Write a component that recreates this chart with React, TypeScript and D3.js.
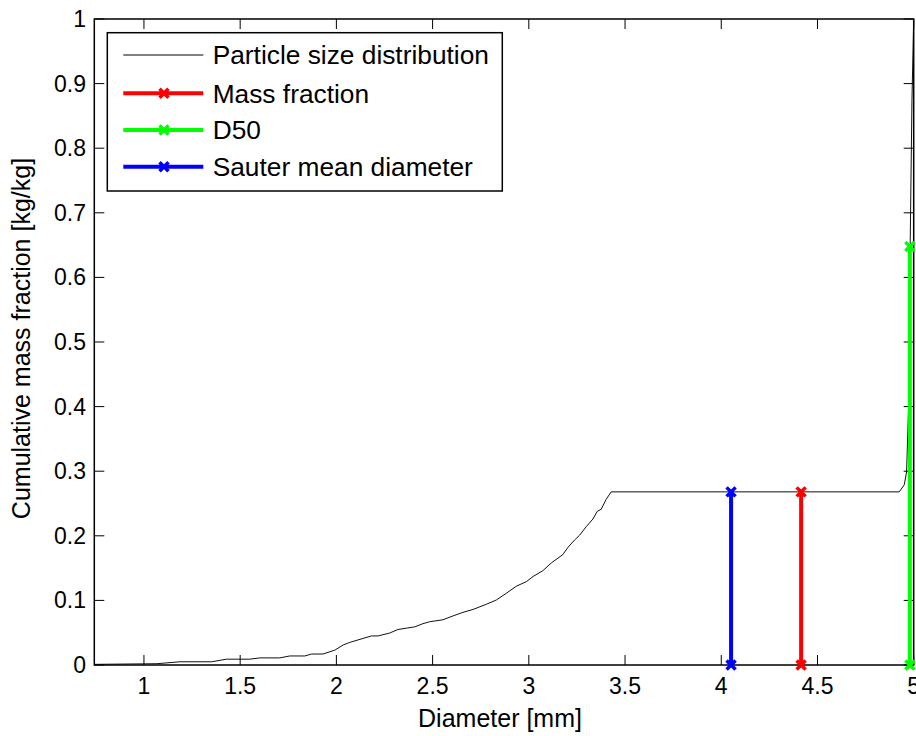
import React from "react";
import * as d3 from "d3";

// Cumulative particle size distribution (diameter in mm, cumulative mass fraction)
const psdDiameter = [
  0.742, 1.068, 1.187, 1.352, 1.429, 1.55, 1.602, 1.706, 1.758, 1.836,
  1.871, 1.93, 1.992, 2.035, 2.07, 2.182, 2.217, 2.277, 2.32, 2.364,
  2.407, 2.45, 2.485, 2.554, 2.606, 2.658, 2.71, 2.779, 2.831, 2.883,
  2.935, 2.987, 3.022, 3.073, 3.117, 3.177, 3.203, 3.238, 3.264, 3.298,
  3.333, 3.356, 3.376, 3.402, 3.428, 4.925, 4.951, 4.963, 4.977, 4.982,
  4.991, 5.0,
];
const psdFraction = [
  0.001, 0.002, 0.005, 0.005, 0.009, 0.009, 0.011, 0.011, 0.014, 0.014,
  0.017, 0.017, 0.023, 0.031, 0.035, 0.045, 0.045, 0.0495, 0.055, 0.057,
  0.059, 0.064, 0.067, 0.07, 0.076, 0.0815, 0.086, 0.094, 0.1006, 0.111,
  0.122, 0.129, 0.137, 0.146, 0.158, 0.171, 0.182, 0.1935, 0.201, 0.214,
  0.226, 0.238, 0.241, 0.2565, 0.268, 0.268, 0.279, 0.299, 0.436, 0.658,
  0.875, 1.0,
];

// Characteristic diameters, each drawn as a stem from 0 up to its level
const markerNames = ["Mass fraction", "D50", "Sauter mean diameter"];
const markerDiameter = [4.415, 4.98, 4.051];
const markerLevel = [0.268, 0.648, 0.268];
const markerColors = ["#ff0000", "#00ff00", "#0000ff"];

const xTicks = [1, 1.5, 2, 2.5, 3, 3.5, 4, 4.5, 5];
const yTicks = [0, 0.1, 0.2, 0.3, 0.4, 0.5, 0.6, 0.7, 0.8, 0.9, 1];

const W = 916;
const H = 736;
const FONT = "'Liberation Sans', Arial, Helvetica, sans-serif";

const plot = { left: 94.3, right: 913.7, top: 19, bottom: 665 };

function Cross({ cx, cy, color }: { cx: number; cy: number; color: string }) {
  const s = 4.5;
  return (
    <path
      d={`M${cx - s},${cy - s}L${cx + s},${cy + s}M${cx - s},${cy + s}L${cx + s},${cy - s}`}
      stroke={color}
      strokeWidth={3.5}
      fill="none"
    />
  );
}

export default function App() {
  const x = d3.scaleLinear().domain([0.742, 5.0]).range([plot.left, plot.right]);
  const y = d3.scaleLinear().domain([0, 1]).range([plot.bottom, plot.top]);

  const psd = psdDiameter.map((d, i) => [d, psdFraction[i]] as [number, number]);
  const line = d3
    .line<[number, number]>()
    .x((d) => x(d[0]))
    .y((d) => y(d[1]));

  const tickLen = 10;

  const legendRows = [
    { name: "Particle size distribution", color: "#000000", marker: false },
    ...markerNames.map((n, i) => ({ name: n, color: markerColors[i], marker: true })),
  ];
  const legend = { x: 107.3, y: 32.7, w: 395, h: 158.3 };
  const rowY = [55, 93.3, 130, 166.7];

  return (
    <svg
      width={W}
      height={H}
      style={{ position: "absolute", left: 0, top: 0, background: "#fff" }}
      fontFamily={FONT}
    >
      <rect x={0} y={0} width={W} height={H} fill="#fff" />

      {/* distribution curve */}
      <path d={line(psd) ?? ""} fill="none" stroke="#111" strokeWidth={1} />

      {/* axes box */}
      <rect
        x={plot.left}
        y={plot.top}
        width={plot.right - plot.left}
        height={plot.bottom - plot.top}
        fill="none"
        stroke="#000"
        strokeWidth={1.5}
      />

      {/* ticks on all four sides, pointing inward */}
      {xTicks.map((t) => (
        <g key={`xt${t}`} stroke="#000" strokeWidth={1}>
          <line x1={x(t)} x2={x(t)} y1={plot.bottom} y2={plot.bottom - tickLen} />
          <line x1={x(t)} x2={x(t)} y1={plot.top} y2={plot.top + tickLen} />
        </g>
      ))}
      {yTicks.map((t) => (
        <g key={`yt${t}`} stroke="#000" strokeWidth={1}>
          <line x1={plot.left} x2={plot.left + tickLen} y1={y(t)} y2={y(t)} />
          <line x1={plot.right} x2={plot.right - tickLen} y1={y(t)} y2={y(t)} />
        </g>
      ))}

      {/* tick labels */}
      {xTicks.map((t) => (
        <text
          key={`xl${t}`}
          x={x(t)}
          y={694}
          textAnchor="middle"
          fontSize={23}
          fill="#000"
        >
          {String(t)}
        </text>
      ))}
      {yTicks.map((t) => (
        <text
          key={`yl${t}`}
          x={86}
          y={y(t)}
          dy="0.35em"
          textAnchor="end"
          fontSize={23}
          fill="#000"
        >
          {String(t)}
        </text>
      ))}

      {/* axis titles */}
      <text x={500} y={727} textAnchor="middle" fontSize={25} fill="#000">
        Diameter [mm]
      </text>
      <text
        transform={`translate(30,${338.5}) rotate(-90)`}
        textAnchor="middle"
        fontSize={25}
        fill="#000"
      >
        Cumulative mass fraction [kg/kg]
      </text>

      {/* characteristic diameter stems */}
      {markerDiameter.map((d, i) => (
        <g key={`m${i}`}>
          <line
            x1={x(d)}
            x2={x(d)}
            y1={y(0)}
            y2={y(markerLevel[i])}
            stroke={markerColors[i]}
            strokeWidth={4}
          />
          <Cross cx={x(d)} cy={y(0)} color={markerColors[i]} />
          <Cross cx={x(d)} cy={y(markerLevel[i])} color={markerColors[i]} />
        </g>
      ))}

      {/* legend */}
      <rect
        x={legend.x}
        y={legend.y}
        width={legend.w}
        height={legend.h}
        fill="#fff"
        stroke="#000"
        strokeWidth={1.5}
      />
      {legendRows.map((r, i) => (
        <g key={`lg${i}`}>
          <line
            x1={123.3}
            x2={203.3}
            y1={rowY[i]}
            y2={rowY[i]}
            stroke={r.color}
            strokeWidth={r.marker ? 4 : 1}
          />
          {r.marker && <Cross cx={164} cy={rowY[i]} color={r.color} />}
          <text x={212.7} y={rowY[i]} dy="0.35em" fontSize={26.3} fill="#000">
            {r.name}
          </text>
        </g>
      ))}
    </svg>
  );
}
